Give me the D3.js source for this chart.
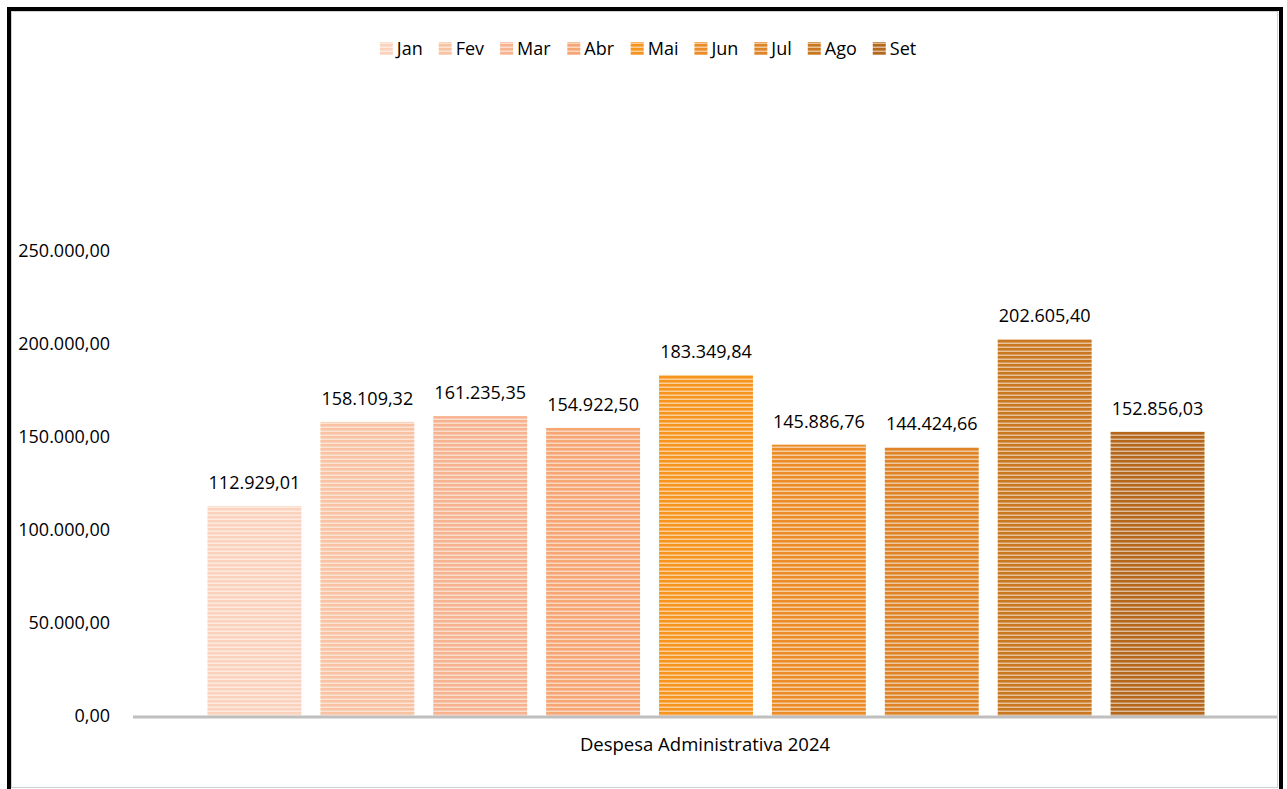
<!DOCTYPE html>
<html>
<head>
<meta charset="utf-8">
<script src="https://cdn.jsdelivr.net/npm/d3@7"></script>
<style>
  body { margin: 0; background: #fff; }
  svg { display: block; font-family: "Open Sans", sans-serif; }
</style>
</head>
<body>
<div id="chart"></div>
<script>
// data
const category = 'Despesa Administrativa 2024';
const months = ['Jan', 'Fev', 'Mar', 'Abr', 'Mai', 'Jun', 'Jul', 'Ago', 'Set'];
const values = [112929.01, 158109.32, 161235.35, 154922.50, 183349.84, 145886.76, 144424.66, 202605.40, 152856.03];
const yTicks = [0, 50000, 100000, 150000, 200000, 250000];
const colors = ['#fbd3bd', '#f9c2a2', '#f7b38f', '#f5a673', '#f7941e', '#ec8c27', '#de8427', '#c97720', '#b5681c'];

const width = 1287, height = 789;
const fmt = v => v.toLocaleString('de-DE', {minimumFractionDigits: 2, maximumFractionDigits: 2});

const svg = d3.select('#chart').append('svg')
  .attr('width', width)
  .attr('height', height);

// stripe patterns
const defs = svg.append('defs');
months.forEach((m, i) => {
  const light = d3.interpolateRgb(colors[i], '#ffffff')(0.55);
  const p = defs.append('pattern')
    .attr('id', `stripe-${i}`)
    .attr('patternUnits', 'userSpaceOnUse')
    .attr('width', 8)
    .attr('height', 4);
  p.append('rect').attr('width', 8).attr('height', 4).attr('fill', light);
  p.append('rect').attr('width', 8).attr('height', 2.5).attr('fill', colors[i]);
});

// frame
svg.append('rect')
  .attr('x', 11.5).attr('y', 11.5)
  .attr('width', 1266).attr('height', 776)
  .attr('fill', 'none')
  .attr('stroke', '#d0d0d0');
svg.append('path')
  .attr('d', 'M9,800V9H1281V800')
  .attr('fill', 'none')
  .attr('stroke', '#000')
  .attr('stroke-width', 4);

const y = d3.scaleLinear()
  .domain([0, 250000])
  .range([716, 251]);

const x = d3.scaleBand()
  .domain(months)
  .range([198, 1214])
  .paddingInner(0.168)
  .paddingOuter(0.084);

// y tick labels
svg.append('g')
  .selectAll('text')
  .data(yTicks)
  .join('text')
  .attr('x', 110)
  .attr('y', d => y(d))
  .attr('dy', '0.35em')
  .attr('text-anchor', 'end')
  .attr('font-size', 18)
  .attr('fill', '#000')
  .text(fmt);

// bars
svg.append('g')
  .selectAll('rect')
  .data(values)
  .join('rect')
  .attr('x', (d, i) => x(months[i]))
  .attr('y', d => y(d))
  .attr('width', x.bandwidth())
  .attr('height', d => y(0) - y(d))
  .attr('fill', (d, i) => `url(#stripe-${i})`);

// data labels
svg.append('g')
  .selectAll('text')
  .data(values)
  .join('text')
  .attr('x', (d, i) => x(months[i]) + x.bandwidth() / 2)
  .attr('y', d => y(d) - 17)
  .attr('text-anchor', 'middle')
  .attr('font-size', 18)
  .attr('fill', '#000')
  .text(fmt);

// x axis line
svg.append('line')
  .attr('x1', 133).attr('x2', 1277)
  .attr('y1', y(0) + 1).attr('y2', y(0) + 1)
  .attr('stroke', '#bfbfbf')
  .attr('stroke-width', 3);

svg.append('text')
  .attr('x', 705)
  .attr('y', 751)
  .attr('text-anchor', 'middle')
  .attr('font-size', 18.5)
  .attr('fill', '#000')
  .text(category);

// legend, centred on the chart area
const legend = svg.append('g');
const items = legend.selectAll('g')
  .data(months)
  .join('g');
items.append('rect')
  .attr('width', 13).attr('height', 13)
  .attr('y', 42)
  .attr('fill', (d, i) => `url(#stripe-${i})`);
items.append('text')
  .attr('x', 17)
  .attr('y', 48.5)
  .attr('dy', '0.35em')
  .attr('font-size', 18)
  .attr('fill', '#000')
  .text(d => d);
let cx = 0;
items.each(function() {
  const w = this.getBBox().width;
  d3.select(this).attr('transform', `translate(${cx},0)`);
  cx += w + 16;
});
const total = cx - 16;
legend.attr('transform', `translate(${648 - total / 2},0)`);
</script>
</body>
</html>
